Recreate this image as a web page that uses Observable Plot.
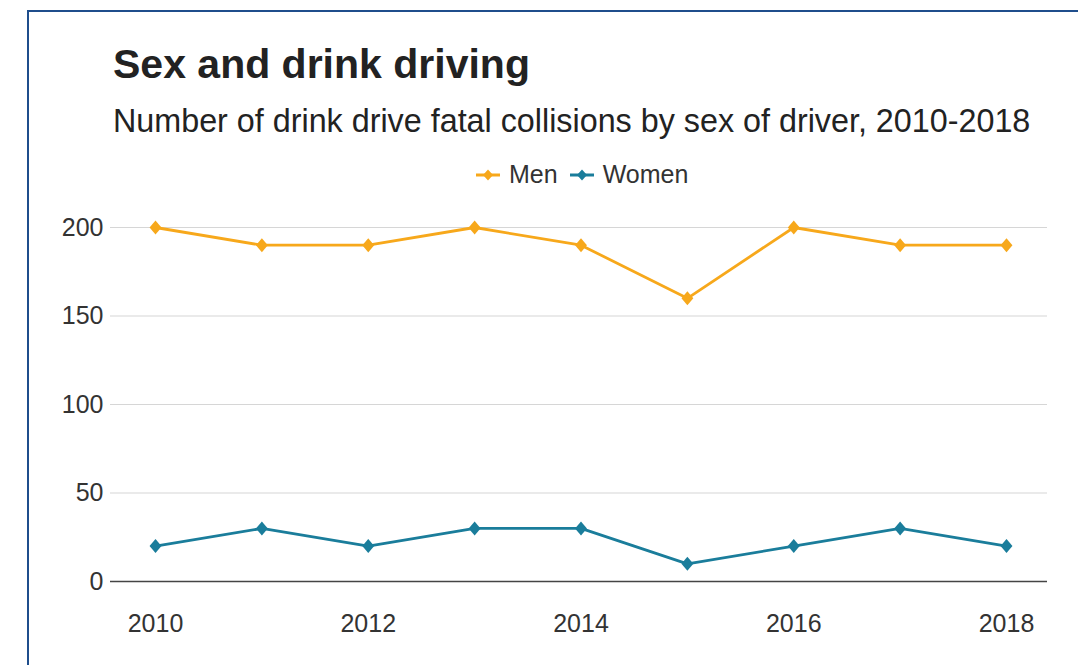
<!DOCTYPE html>
<html>
<head>
<meta charset="utf-8">
<script src="https://cdn.jsdelivr.net/npm/d3@7"></script>
<script src="https://cdn.jsdelivr.net/npm/@observablehq/plot@0.6"></script>
<style>
  html, body { margin: 0; padding: 0; background: #fff; overflow: hidden; }
  body { width: 1078px; height: 665px; position: relative; font-family: "Liberation Sans", Arial, sans-serif; }
  #frame { position: absolute; left: 27px; top: 10px; width: 1100px; height: 700px; border: 2px solid #1f4e8c; box-sizing: border-box; }
  .txt { position: absolute; white-space: nowrap; color: #222; line-height: 1; }
  #title { left: 113px; top: 44px; font-size: 41px; font-weight: bold; }
  #subtitle { left: 113px; top: 105px; font-size: 32.3px; }
  #legend { position: absolute; left: 476px; top: 162px; display: flex; align-items: center; font-size: 25px; color: #333; line-height: 25px; }
  .item { display: flex; align-items: center; margin-right: 12px; }
  .item svg { margin-right: 9px; }
  #chart { position: absolute; left: 0; top: 200px; }
</style>
</head>
<body>
<div id="frame"></div>
<div id="title" class="txt">Sex and drink driving</div>
<div id="subtitle" class="txt">Number of drink drive fatal collisions by sex of driver, 2010-2018</div>
<div id="legend"></div>
<div id="chart"></div>
<script>
const years = [2010, 2011, 2012, 2013, 2014, 2015, 2016, 2017, 2018];
const men = [200, 190, 190, 200, 190, 160, 200, 190, 190];
const women = [20, 30, 20, 30, 30, 10, 20, 30, 20];
const seriesNames = ["Men", "Women"];
const seriesColors = ["#f7a81b", "#1a7d9b"];
const yTicks = [0, 50, 100, 150, 200];
const xTicks = [2010, 2012, 2014, 2016, 2018];

const data = [];
years.forEach((y, i) => data.push({year: y, value: men[i], sex: "Men"}));
years.forEach((y, i) => data.push({year: y, value: women[i], sex: "Women"}));

const diamondSym = {
  draw(ctx, size) {
    const r = Math.sqrt(size / Math.PI);
    const w = r * 0.85;
    ctx.moveTo(0, -r);
    ctx.lineTo(w, 0);
    ctx.lineTo(0, r);
    ctx.lineTo(-w, 0);
    ctx.closePath();
  }
};

// legend
const legend = document.getElementById("legend");
seriesNames.forEach((name, i) => {
  const item = document.createElement("div");
  item.className = "item";
  const c = seriesColors[i];
  item.innerHTML = `<svg width="24" height="14" viewBox="0 0 24 14"><line x1="0" y1="7" x2="24" y2="7" stroke="${c}" stroke-width="3"/><path d="M12 1.5 L17 7 L12 12.5 L7 7 Z" fill="${c}"/></svg><span>${name}</span>`;
  legend.appendChild(item);
});

const chart = Plot.plot({
  width: 1078,
  height: 440,
  marginTop: 27,
  marginBottom: 59,
  marginLeft: 110,
  marginRight: 31,
  style: { fontFamily: "Liberation Sans, Arial, sans-serif", fontSize: "25px", color: "#333", background: "transparent", overflow: "visible" },
  x: { domain: [2010, 2018], range: [155, 1006], ticks: xTicks, tickFormat: d => String(d), tickSize: 0, tickPadding: 33, label: null },
  y: { domain: [0, 200], ticks: yTicks, tickSize: 0, tickPadding: 7, label: null },
  color: { domain: seriesNames, range: seriesColors },
  marks: [
    Plot.gridY(yTicks, { stroke: "#d6d6d6", strokeOpacity: 1, strokeWidth: 1.2 }),
    Plot.ruleY([0], { stroke: "#444", strokeWidth: 1.5 }),
    Plot.axisX({ ticks: xTicks, tickFormat: d => String(d), tickSize: 0, tickPadding: 33, fill: "#333" }),
    Plot.axisY({ ticks: yTicks, tickSize: 0, tickPadding: 7, fill: "#333" }),
    Plot.line(data, { x: "year", y: "value", z: "sex", stroke: "sex", strokeWidth: 2.8 }),
    Plot.dot(data, { x: "year", y: "value", fill: "sex", symbol: diamondSym, r: 7 })
  ]
});
document.getElementById("chart").appendChild(chart);
</script>
</body>
</html>
